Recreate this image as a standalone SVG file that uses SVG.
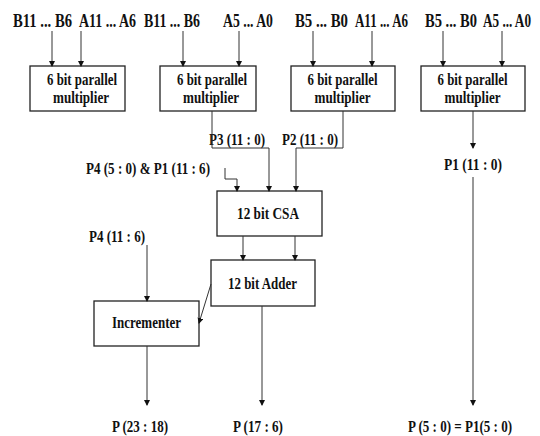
<svg xmlns="http://www.w3.org/2000/svg" width="540" height="436" viewBox="0 0 540 436">
<defs>
<style>
text{font-family:"Liberation Serif","Times New Roman",serif;font-weight:bold;fill:#111;}
.t{font-size:18px;}
.l{font-size:17px;}
.box{fill:#fff;stroke:#222;stroke-width:1.3;}
.c{fill:none;stroke:#333;stroke-width:1;}
</style>
<marker id="ah" markerUnits="userSpaceOnUse" markerWidth="6" markerHeight="7" refX="5" refY="3" orient="auto">
<path d="M0,0 L6,3 L0,6 Z" fill="#111"/>
</marker>
</defs>
<rect width="540" height="436" fill="#fff"/>

<g id="inputs">
<text class="t" x="13" y="27" textLength="59" lengthAdjust="spacingAndGlyphs">B11 ... B6</text>
<text class="t" x="79" y="27" textLength="57" lengthAdjust="spacingAndGlyphs">A11 ... A6</text>
<text class="t" x="144" y="27" textLength="56" lengthAdjust="spacingAndGlyphs">B11 ... B6</text>
<text class="t" x="223" y="27" textLength="50" lengthAdjust="spacingAndGlyphs">A5 ... A0</text>
<text class="t" x="295" y="27" textLength="53" lengthAdjust="spacingAndGlyphs">B5 ... B0</text>
<text class="t" x="355" y="27" textLength="53" lengthAdjust="spacingAndGlyphs">A11 ... A6</text>
<text class="t" x="425" y="27" textLength="52" lengthAdjust="spacingAndGlyphs">B5 ... B0</text>
<text class="t" x="483" y="27" textLength="48" lengthAdjust="spacingAndGlyphs">A5 ... A0</text>
</g>

<g id="mult1">
<rect class="box" x="30" y="66" width="95" height="45"/>
<text class="l" x="82" y="85" text-anchor="middle" textLength="70" lengthAdjust="spacingAndGlyphs">6 bit parallel</text>
<text class="l" x="81" y="103" text-anchor="middle" textLength="56" lengthAdjust="spacingAndGlyphs">multiplier</text>
</g>
<g id="mult2">
<rect class="box" x="160" y="66" width="96" height="45"/>
<text class="l" x="212" y="85" text-anchor="middle" textLength="70" lengthAdjust="spacingAndGlyphs">6 bit parallel</text>
<text class="l" x="211" y="103" text-anchor="middle" textLength="56" lengthAdjust="spacingAndGlyphs">multiplier</text>
</g>
<g id="mult3">
<rect class="box" x="291" y="66" width="104" height="45"/>
<text class="l" x="342.5" y="85" text-anchor="middle" textLength="70" lengthAdjust="spacingAndGlyphs">6 bit parallel</text>
<text class="l" x="342.5" y="103" text-anchor="middle" textLength="56" lengthAdjust="spacingAndGlyphs">multiplier</text>
</g>
<g id="mult4">
<rect class="box" x="421" y="66" width="104" height="45"/>
<text class="l" x="472.5" y="85" text-anchor="middle" textLength="70" lengthAdjust="spacingAndGlyphs">6 bit parallel</text>
<text class="l" x="472.5" y="103" text-anchor="middle" textLength="56" lengthAdjust="spacingAndGlyphs">multiplier</text>
</g>

<g id="csa">
<rect class="box" x="217" y="191" width="105" height="45"/>
<text class="l" x="268" y="219" text-anchor="middle" textLength="62" lengthAdjust="spacingAndGlyphs">12 bit CSA</text>
</g>
<g id="adder">
<rect class="box" x="211" y="260" width="104" height="46"/>
<text class="l" x="262.5" y="289" text-anchor="middle" textLength="69" lengthAdjust="spacingAndGlyphs">12 bit Adder</text>
</g>
<g id="incrementer">
<rect class="box" x="94" y="301" width="105" height="45"/>
<text class="l" x="146.5" y="328" text-anchor="middle" textLength="69" lengthAdjust="spacingAndGlyphs">Incrementer</text>
</g>

<g id="labels">
<text class="l" x="209" y="145" textLength="56" lengthAdjust="spacingAndGlyphs">P3 (11 : 0)</text>
<text class="l" x="282" y="145" textLength="56" lengthAdjust="spacingAndGlyphs">P2 (11 : 0)</text>
<text class="l" x="86" y="174" textLength="124" lengthAdjust="spacingAndGlyphs">P4 (5 : 0) &amp; P1 (11 : 6)</text>
<text class="l" x="444" y="170" textLength="58" lengthAdjust="spacingAndGlyphs">P1 (11 : 0)</text>
<text class="l" x="89" y="242" textLength="56" lengthAdjust="spacingAndGlyphs">P4 (11 : 6)</text>
<text class="l" x="112" y="432" textLength="56" lengthAdjust="spacingAndGlyphs">P (23 : 18)</text>
<text class="l" x="233" y="432" textLength="50" lengthAdjust="spacingAndGlyphs">P (17 : 6)</text>
<text class="l" x="408" y="432" textLength="104" lengthAdjust="spacingAndGlyphs">P (5 : 0) = P1(5 : 0)</text>
</g>

<g id="connectors">
<path class="c" d="M52,31 V66" marker-end="url(#ah)"/>
<path class="c" d="M81,31 V66" marker-end="url(#ah)"/>
<path class="c" d="M183,31 V66" marker-end="url(#ah)"/>
<path class="c" d="M239,31 V66" marker-end="url(#ah)"/>
<path class="c" d="M313,31 V66" marker-end="url(#ah)"/>
<path class="c" d="M372,31 V66" marker-end="url(#ah)"/>
<path class="c" d="M443,31 V66" marker-end="url(#ah)"/>
<path class="c" d="M502,31 V66" marker-end="url(#ah)"/>
<path class="c" d="M212,111 V148 H269 V191" marker-end="url(#ah)"/>
<path class="c" d="M343,111 V148 H296 V191" marker-end="url(#ah)"/>
<path class="c" d="M225,168 V179 H237 V191" marker-end="url(#ah)"/>
<path class="c" d="M473,111 V148" marker-end="url(#ah)"/>
<path class="c" d="M473,177 V405" marker-end="url(#ah)"/>
<path class="c" d="M243,236 V260" marker-end="url(#ah)"/>
<path class="c" d="M295,236 V260" marker-end="url(#ah)"/>
<path class="c" d="M147,245 V301" marker-end="url(#ah)"/>
<path class="c" d="M211,284 L199,323" marker-end="url(#ah)"/>
<path class="c" d="M147,346 V405" marker-end="url(#ah)"/>
<path class="c" d="M262,306 V405" marker-end="url(#ah)"/>
</g>
</svg>
